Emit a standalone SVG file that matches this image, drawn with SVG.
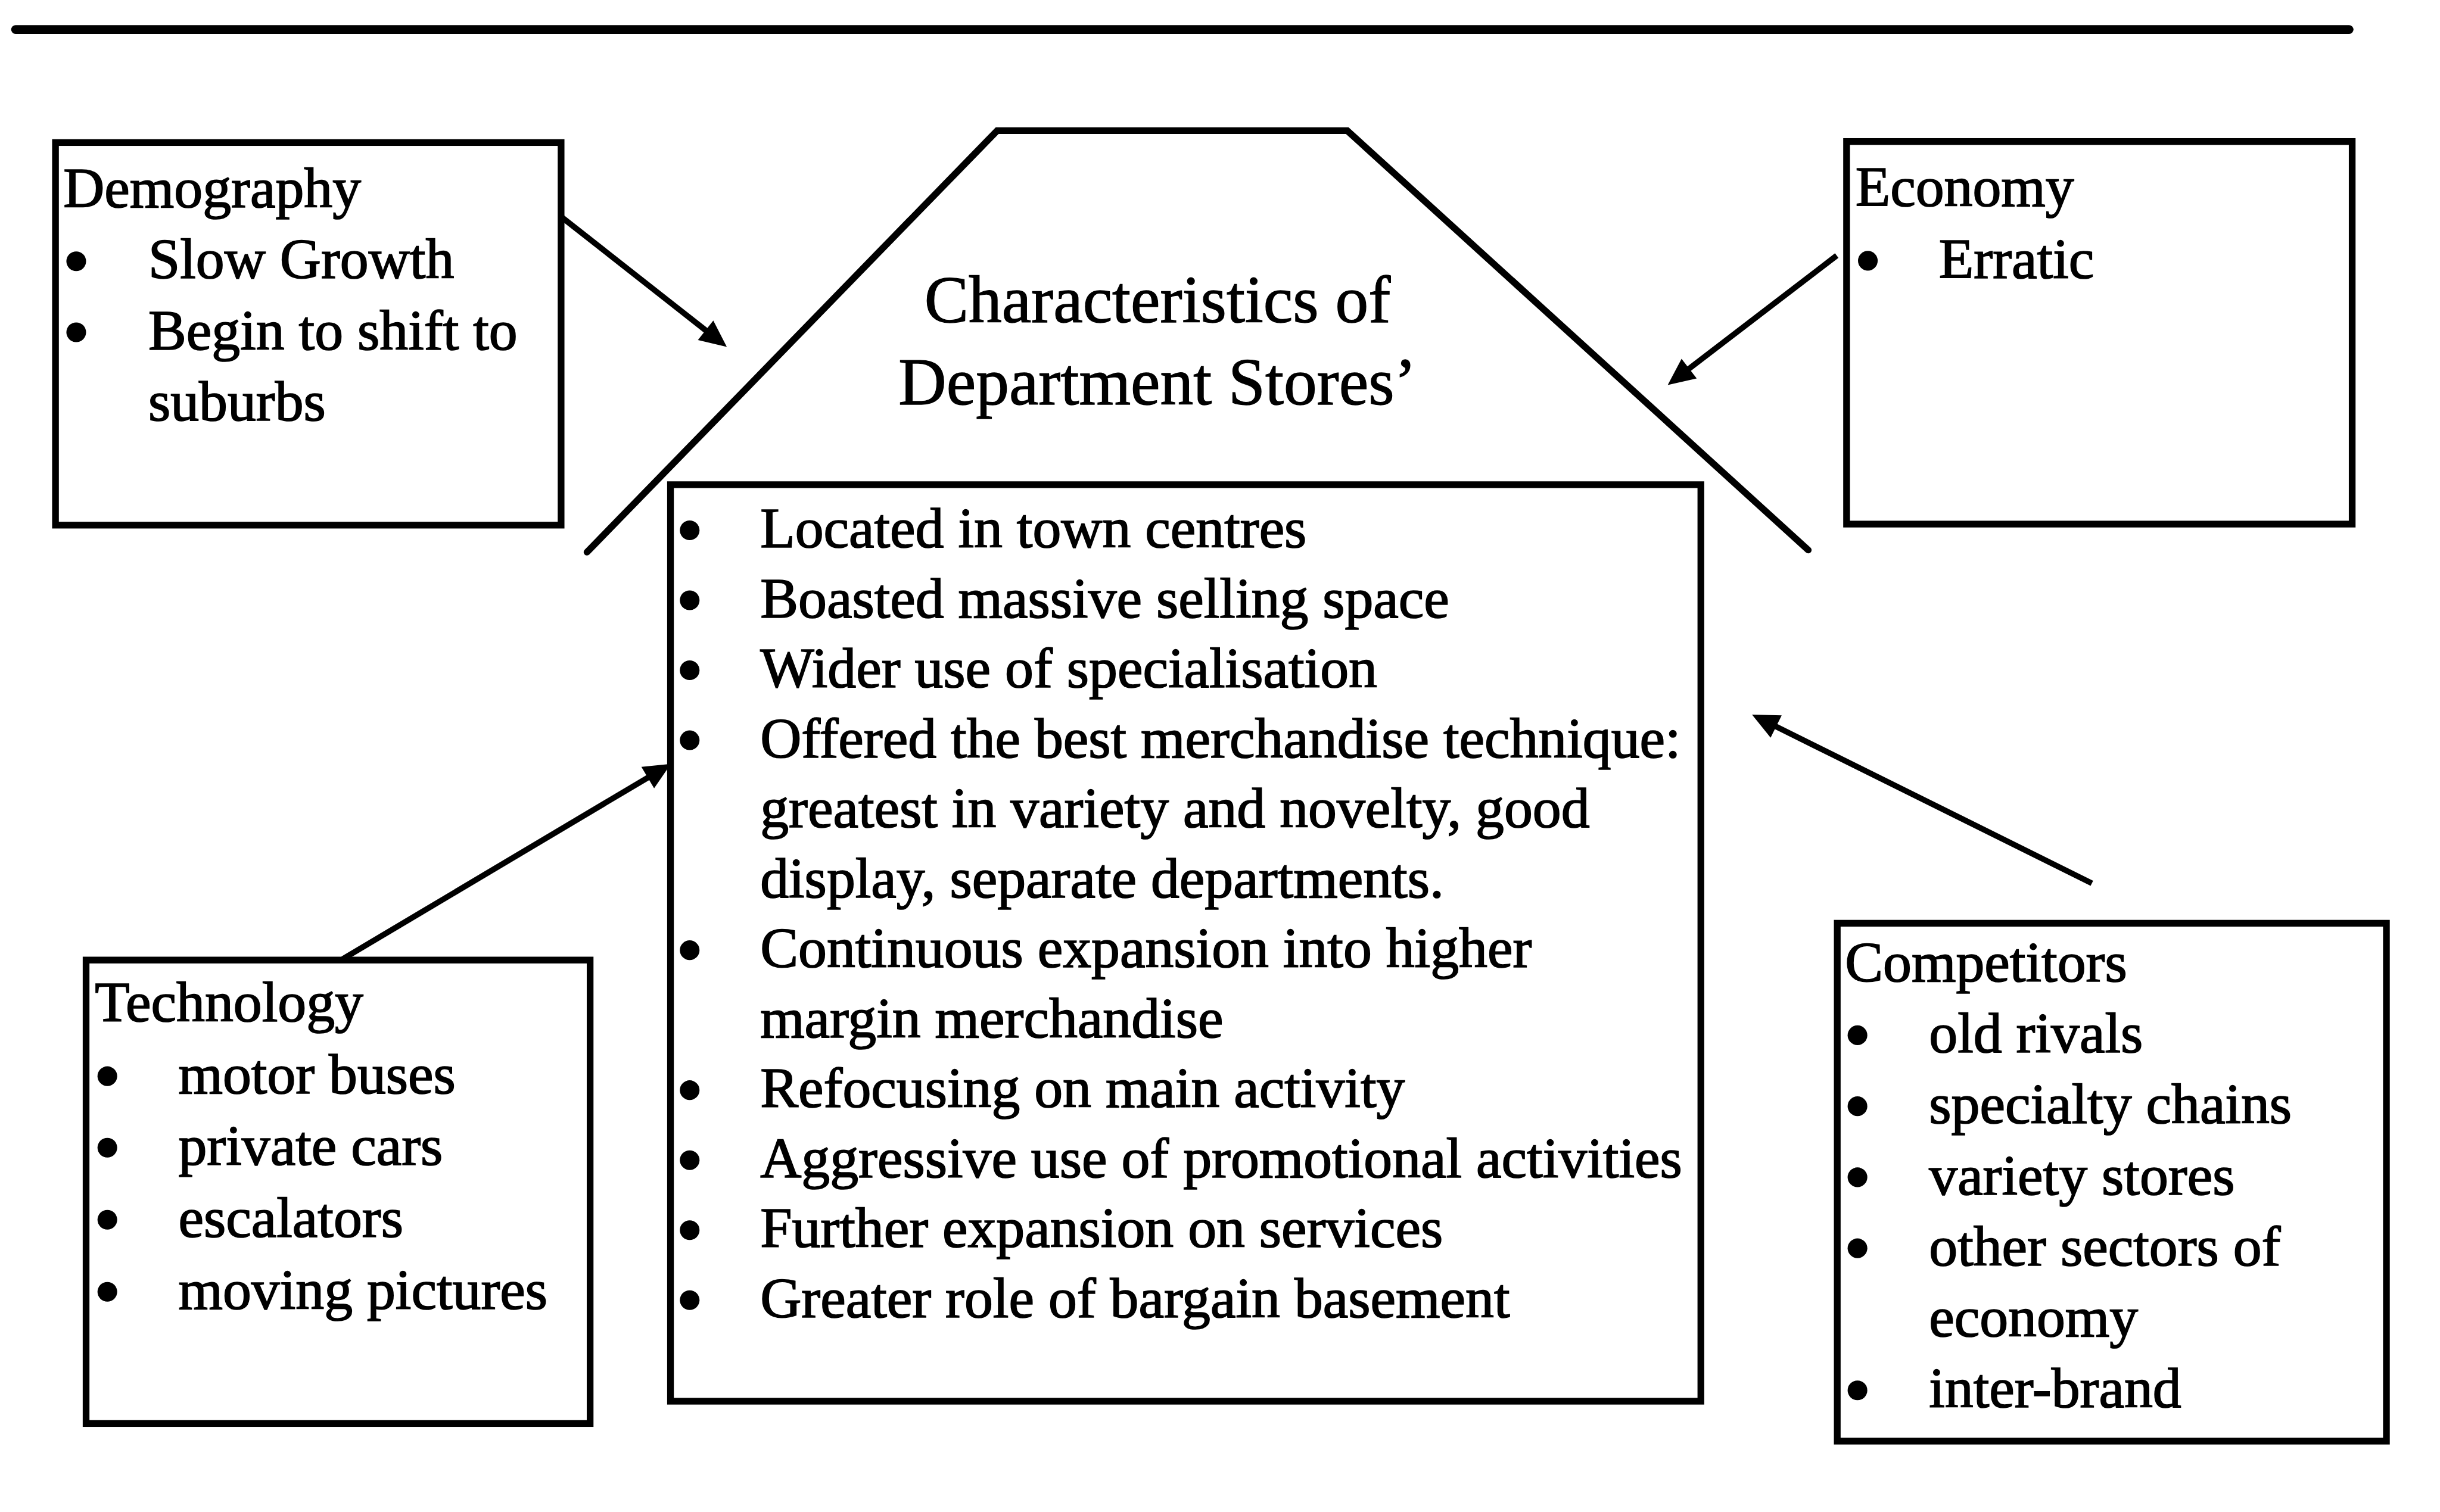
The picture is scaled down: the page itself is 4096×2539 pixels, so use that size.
<svg xmlns="http://www.w3.org/2000/svg" width="4096" height="2539" viewBox="0 0 4096 2539">
  <style>
    .box { fill: #fff; stroke: #000; stroke-width: 13; }
    .rule { fill: none; stroke: #000; stroke-width: 17; stroke-linecap: round; }
    .roof { fill: none; stroke: #000; stroke-width: 13; stroke-linejoin: miter; stroke-linecap: round; }
    .conn { fill: none; stroke: #000; stroke-width: 11; marker-end: url(#head); }
    .t { font-family: "Liberation Serif", "Times New Roman", serif; font-size: 110px; fill: #000; stroke: #000; stroke-width: 2; }
    .title { font-family: "Liberation Serif", "Times New Roman", serif; font-size: 128px; fill: #000; stroke: #000; stroke-width: 1.5; text-anchor: middle; }
    .dot { fill: #000; }
  </style>
  <defs>
    <marker id="head" markerUnits="userSpaceOnUse" markerWidth="120" markerHeight="120" refX="0" refY="0" viewBox="-20 -60 120 120" orient="auto" overflow="visible">
      <path d="M44,0 L-8,-24 L-8,24 Z" fill="#000"/>
    </marker>
    <circle id="bullet" r="19"/>
  </defs>
  <rect width="4096" height="2539" fill="#fff"/>
  <g transform="scale(0.8705)">
    <!-- heading rule -->
    <line class="rule" x1="30" y1="57" x2="4530" y2="57"/>

    <!-- connectors -->
    <g id="connectors">
      <line class="conn" x1="1082" y1="418" x2="1367" y2="642"/>
      <line class="conn" x1="3542" y1="493" x2="3251" y2="716"/>
      <line class="conn" x1="661" y1="1850" x2="1256" y2="1496"/>
      <line class="conn" x1="4034" y1="1704" x2="3418" y2="1398"/>
    </g>

    <!-- roof with title -->
    <g id="characteristics-title">
      <polyline class="roof" points="1132,1065 1923,252 2598,252 3487,1061"/>
      <text class="title" x="2232" y="622">Characteristics of</text>
      <text class="title" x="2232" y="780">Department Stores’</text>
    </g>

    <!-- Demography -->
    <g id="demography">
      <rect class="box" x="107" y="275" width="975" height="738"/>
      <text class="t" x="122" y="400">Demography</text>
      <use href="#bullet" class="dot" x="147" y="504"/>
      <text class="t" x="286" y="537">Slow Growth</text>
      <use href="#bullet" class="dot" x="147" y="641"/>
      <text class="t" x="286" y="674">Begin to shift to</text>
      <text class="t" x="286" y="811">suburbs</text>
    </g>

    <!-- Economy -->
    <g id="economy">
      <rect class="box" x="3561" y="273" width="975" height="738"/>
      <text class="t" x="3578" y="398">Economy</text>
      <use href="#bullet" class="dot" x="3602" y="503"/>
      <text class="t" x="3739" y="536">Erratic</text>
    </g>

    <!-- Technology -->
    <g id="technology">
      <rect class="box" x="166" y="1852" width="972" height="894"/>
      <text class="t" x="183" y="1970">Technology</text>
      <use href="#bullet" class="dot" x="207" y="2076"/>
      <text class="t" x="344" y="2109">motor buses</text>
      <use href="#bullet" class="dot" x="207" y="2214"/>
      <text class="t" x="344" y="2247">private cars</text>
      <use href="#bullet" class="dot" x="207" y="2353"/>
      <text class="t" x="344" y="2386">escalators</text>
      <use href="#bullet" class="dot" x="207" y="2492"/>
      <text class="t" x="344" y="2525">moving pictures</text>
    </g>

    <!-- Characteristics list -->
    <g id="characteristics">
      <rect class="box" x="1293" y="935" width="1987" height="1768"/>
      <use href="#bullet" class="dot" x="1330" y="1023"/>
      <text class="t" x="1466" y="1056">Located in town centres</text>
      <use href="#bullet" class="dot" x="1330" y="1158"/>
      <text class="t" x="1466" y="1191">Boasted massive selling space</text>
      <use href="#bullet" class="dot" x="1330" y="1293"/>
      <text class="t" x="1466" y="1326">Wider use of specialisation</text>
      <use href="#bullet" class="dot" x="1330" y="1428"/>
      <text class="t" x="1466" y="1461">Offered the best merchandise technique:</text>
      <text class="t" x="1466" y="1596">greatest in variety and novelty, good</text>
      <text class="t" x="1466" y="1731">display, separate departments.</text>
      <use href="#bullet" class="dot" x="1330" y="1833"/>
      <text class="t" x="1466" y="1866">Continuous expansion into higher</text>
      <text class="t" x="1466" y="2001">margin merchandise</text>
      <use href="#bullet" class="dot" x="1330" y="2103"/>
      <text class="t" x="1466" y="2136">Refocusing on main activity</text>
      <use href="#bullet" class="dot" x="1330" y="2238"/>
      <text class="t" x="1466" y="2271">Aggressive use of promotional activities</text>
      <use href="#bullet" class="dot" x="1330" y="2373"/>
      <text class="t" x="1466" y="2406">Further expansion on services</text>
      <use href="#bullet" class="dot" x="1330" y="2508"/>
      <text class="t" x="1466" y="2541">Greater role of bargain basement</text>
    </g>

    <!-- Competitors -->
    <g id="competitors">
      <rect class="box" x="3543" y="1781" width="1059" height="999"/>
      <text class="t" x="3558" y="1893">Competitors</text>
      <use href="#bullet" class="dot" x="3582" y="1997"/>
      <text class="t" x="3720" y="2030">old rivals</text>
      <use href="#bullet" class="dot" x="3582" y="2134"/>
      <text class="t" x="3720" y="2167">specialty chains</text>
      <use href="#bullet" class="dot" x="3582" y="2271"/>
      <text class="t" x="3720" y="2304">variety stores</text>
      <use href="#bullet" class="dot" x="3582" y="2408"/>
      <text class="t" x="3720" y="2441">other sectors of</text>
      <text class="t" x="3720" y="2578">economy</text>
      <use href="#bullet" class="dot" x="3582" y="2682"/>
      <text class="t" x="3720" y="2715">inter-brand</text>
    </g>
  </g>
</svg>
